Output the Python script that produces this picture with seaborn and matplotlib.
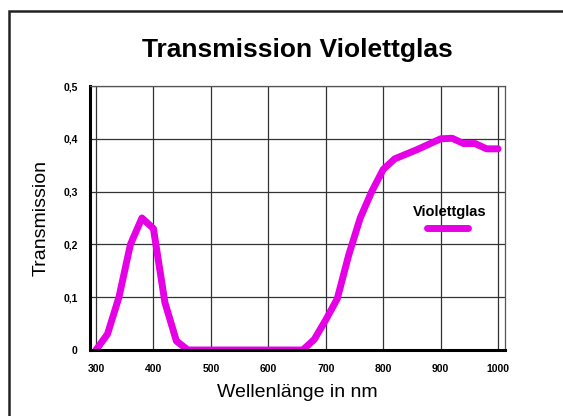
import numpy as np
import pandas as pd
import matplotlib
matplotlib.use("Agg")
import matplotlib.pyplot as plt
from matplotlib.patches import Rectangle
import seaborn as sns

sns.set_style("white", {"text.color": "black", "axes.labelcolor": "black",
                        "xtick.color": "black", "ytick.color": "black"})
plt.rcParams['font.family'] = ['Liberation Sans', 'DejaVu Sans']

# wavelength in nm and transmission
wavelength = [300, 320, 340, 360, 380, 400, 420, 440, 460, 480, 500, 520, 540, 560,
              580, 600, 620, 640, 660, 680, 700, 720, 740, 760, 780, 800, 820, 840,
              860, 880, 900, 920, 940, 960, 980, 1000]
transmission = [0.0, 0.03, 0.1, 0.2, 0.25, 0.23, 0.09, 0.017, 0.0, 0.0, 0.0, 0.0, 0.0, 0.0,
                0.0, 0.0, 0.0, 0.0, 0.0, 0.02, 0.057, 0.097, 0.18, 0.25, 0.3, 0.342, 0.362, 0.371,
                0.38, 0.39, 0.4, 0.401, 0.391, 0.391, 0.381, 0.381]
x_ticks = [300, 400, 500, 600, 700, 800, 900, 1000]
y_ticks = [0, 0.1, 0.2, 0.3, 0.4, 0.5]
y_tick_labels = ["0", "0,1", "0,2", "0,3", "0,4", "0,5"]

df = pd.DataFrame({"Wellenlänge": wavelength, "Transmission": transmission})

fig = plt.figure(figsize=(5.63, 4.16), dpi=100)
ax = fig.add_axes([90 / 563, 1 - 350 / 416, 415 / 563, 264 / 416])

sns.lineplot(data=df, x="Wellenlänge", y="Transmission", color="#e600e6",
             linewidth=5, ax=ax, solid_capstyle="round")

ax.set_xlim(289.6, 1012)
ax.set_ylim(0, 0.5)
ax.set_xticks(x_ticks)
ax.set_yticks(y_ticks)
ax.set_yticklabels(y_tick_labels)
ax.grid(True, color="#333333", linewidth=0.9)
ax.set_axisbelow(True)
ax.tick_params(length=0, labelsize=7.5, labelcolor="black")
ax.tick_params(axis="x", pad=10)
ax.tick_params(axis="y", pad=9)
for lbl in ax.get_xticklabels() + ax.get_yticklabels():
    lbl.set_fontweight("bold")

for s in ["left", "bottom"]:
    ax.spines[s].set_color("black")
    ax.spines[s].set_linewidth(2.2)
for s in ["top", "right"]:
    ax.spines[s].set_color("#555555")
    ax.spines[s].set_linewidth(0.9)

ax.set_title("Transmission Violettglas", fontsize=19, fontweight="bold", pad=21, color="black")
ax.set_xlabel("Wellenlänge in nm", fontsize=14, color="black")
ax.set_ylabel("Transmission", fontsize=14, color="black")
ax.xaxis.set_label_coords(0.5, -0.128)
ax.yaxis.set_label_coords(-0.098, 0.5)

line = ax.lines[0]
leg = ax.legend(handles=[line], labels=[" "], title="Violettglas", frameon=False,
                loc="center", bbox_to_anchor=(0.866, 0.49), handlelength=3.0,
                handletextpad=0, borderpad=0,
                title_fontproperties={"weight": "bold", "size": 10.5})
leg.get_title().set_color("black")
leg._legend_box.sep = 2

fig.add_artist(Rectangle((9 / 563, -0.1), 1.2, 1.1 - 11 / 416, transform=fig.transFigure,
                         fill=False, edgecolor="#222222", linewidth=1.8))

plt.savefig("out.png", dpi=100)
